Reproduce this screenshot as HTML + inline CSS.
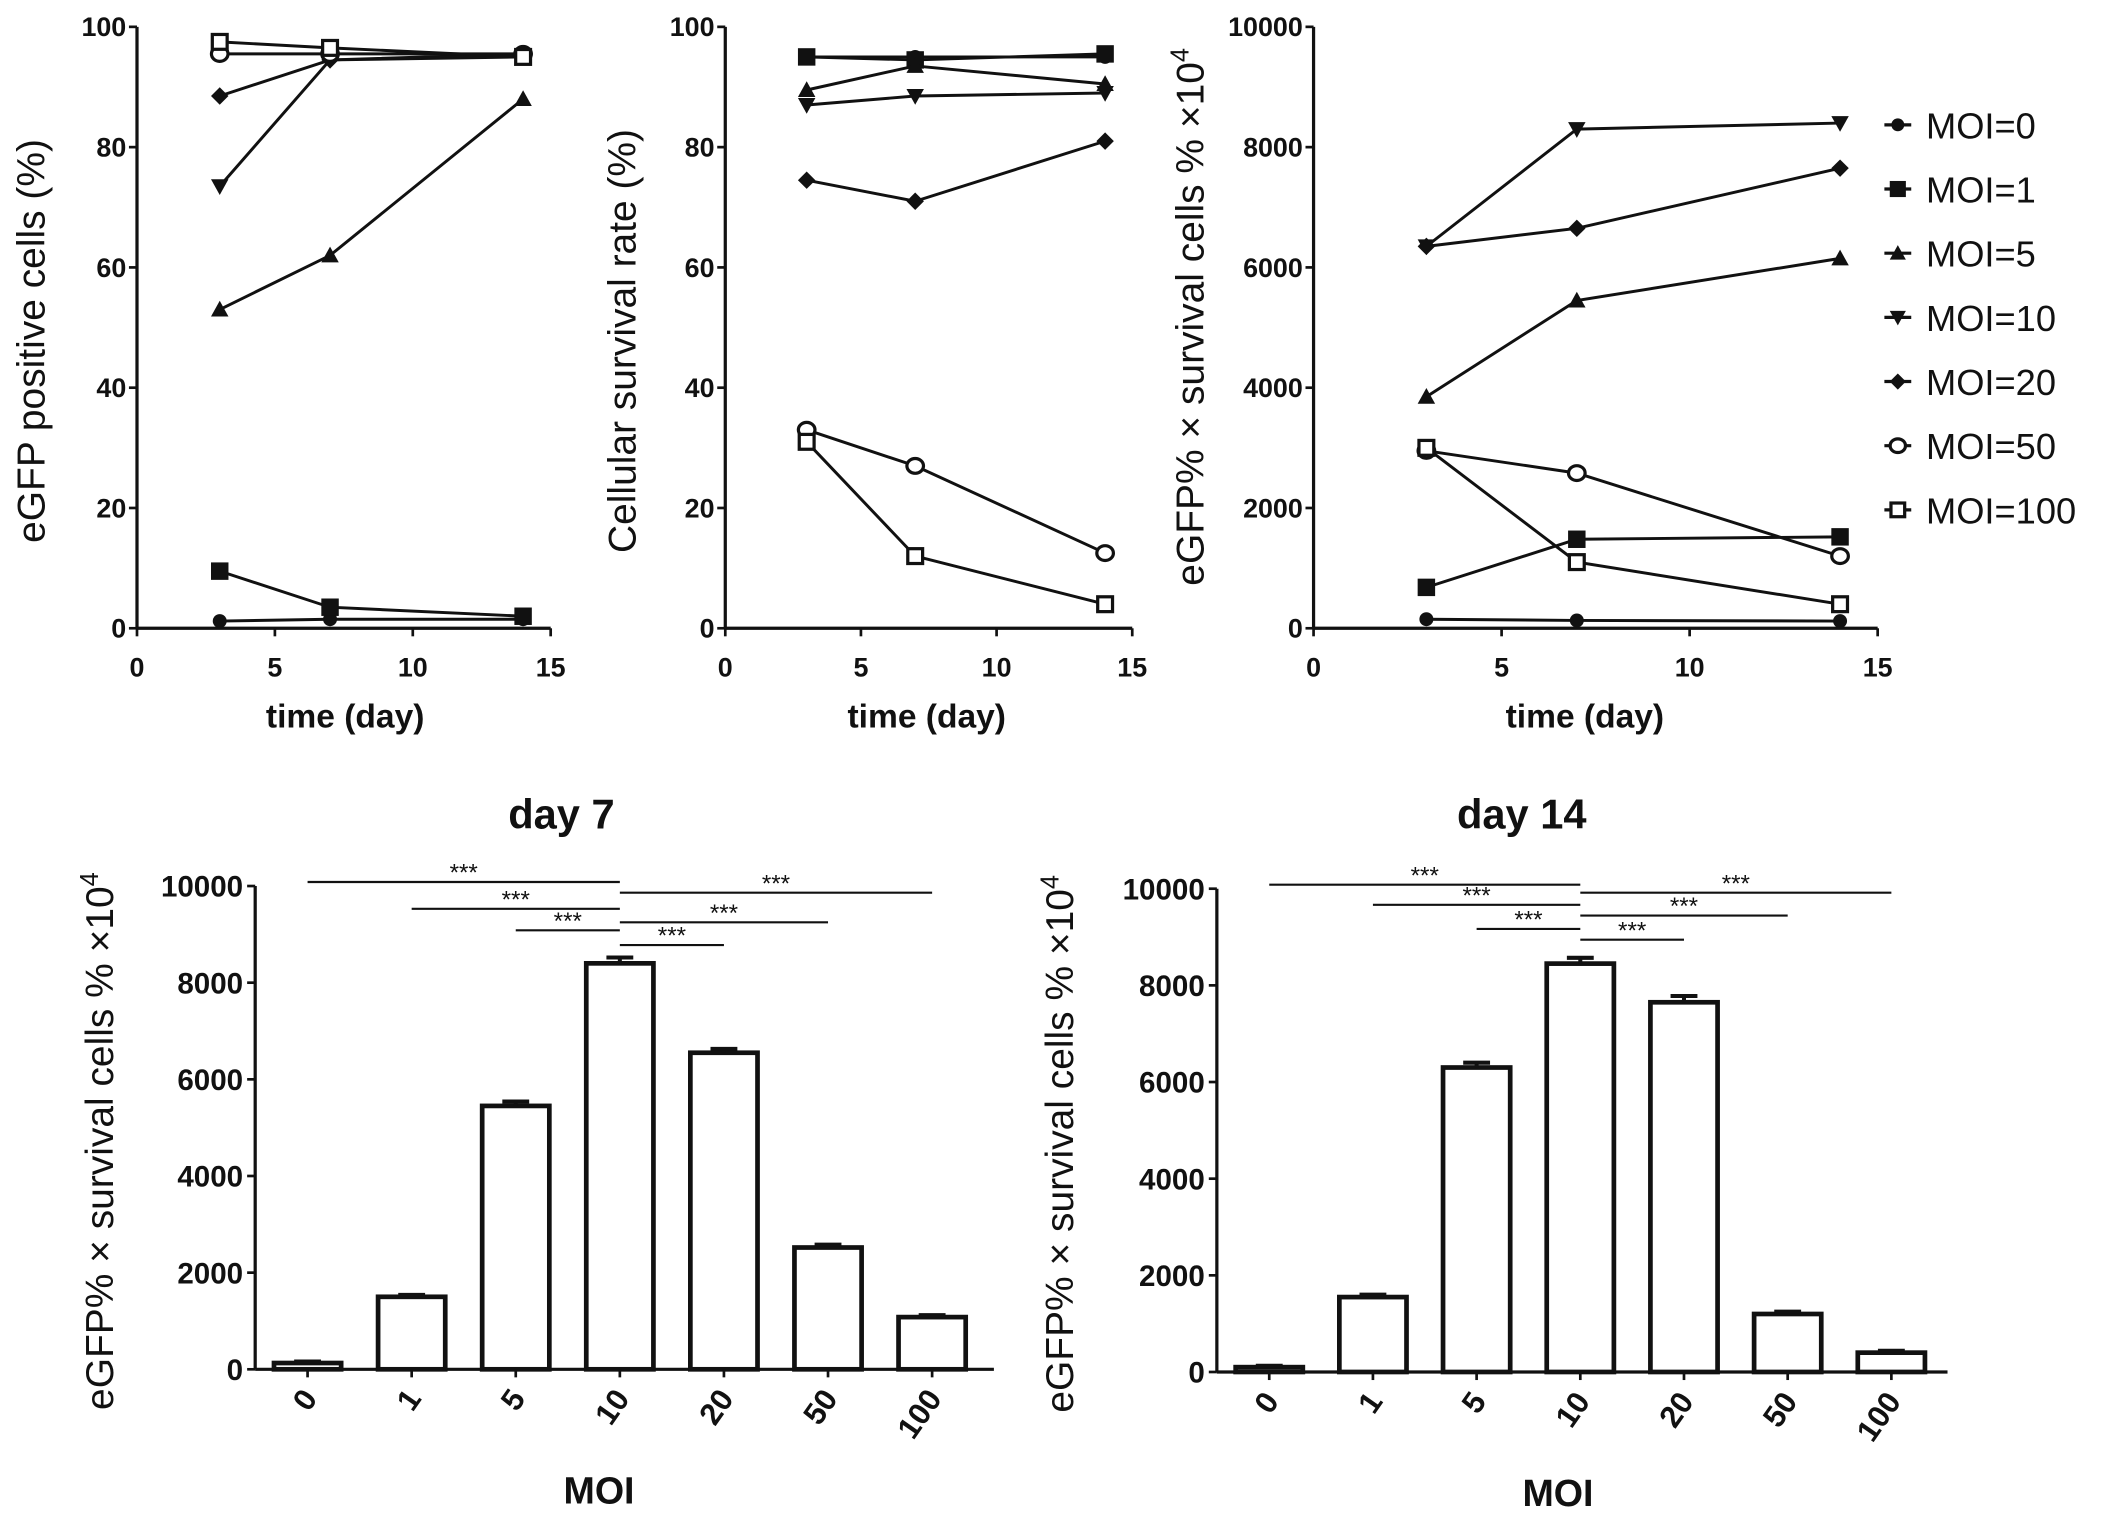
<!DOCTYPE html>
<html><head><meta charset="utf-8">
<style>
html,body{margin:0;padding:0;background:#fff;}
svg{display:block;}
text{font-family:"Liberation Sans",Arial,sans-serif;fill:#111;}
</style></head>
<body>
<svg id="fig" width="2106" height="1521" viewBox="0 0 1568 1133" preserveAspectRatio="none" xmlns="http://www.w3.org/2000/svg"></svg>
<script>
// ---- data ----
const days = [3, 7, 14];
const moiLabels = ["MOI=0","MOI=1","MOI=5","MOI=10","MOI=20","MOI=50","MOI=100"];
const markers = ["circle","square","tri","tridown","diamond","ocircle","osquare"];
const egfp0 = [1.2,1.5,1.5];
const egfp1 = [9.5,3.5,2];
const egfp5 = [53,62,88];
const egfp10 = [73.5,94.5,95];
const egfp20 = [88.5,94.5,95.5];
const egfp50 = [95.5,95.5,95.5];
const egfp100 = [97.5,96.5,95];
const surv0 = [95,95,95];
const surv1 = [95,94.5,95.5];
const surv5 = [89.5,93.5,90.5];
const surv10 = [87,88.5,89];
const surv20 = [74.5,71,81];
const surv50 = [33,27,12.5];
const surv100 = [31,12,4];
const prod0 = [150,130,120];
const prod1 = [680,1480,1520];
const prod5 = [3850,5450,6150];
const prod10 = [6350,8300,8400];
const prod20 = [6350,6650,7650];
const prod50 = [2950,2580,1200];
const prod100 = [3000,1100,400];
const barCats = ["0","1","5","10","20","50","100"];
const day7Vals = [130,1500,5450,8400,6550,2520,1080];
const day7Err = [30,40,90,120,80,60,40];
const day14Vals = [100,1550,6300,8450,7650,1200,400];
const day14Err = [30,50,100,120,130,50,40];
const tickTime = [0,5,10,15];
const tickPct = [0,20,40,60,80,100];
const tickProd = [0,2000,4000,6000,8000,10000];
const tickBar = [0,2000,4000,6000,8000,10000];
const sig7 = [[0,3],[3,6],[1,3],[3,5],[2,3],[3,4]];
const sig14 = [[0,3],[3,6],[1,3],[3,5],[2,3],[3,4]];

const NS="http://www.w3.org/2000/svg";
const svg=document.getElementById('fig');
function el(tag,attrs,parent){const e=document.createElementNS(NS,tag);for(const k in attrs)e.setAttribute(k,attrs[k]);(parent||svg).appendChild(e);return e;}
function txt(s,attrs,parent){const e=el('text',attrs,parent);e.textContent=s;return e;}

function marker(g,type,x,y,s){
  s=s||6.5;
  let m;
  if(type==="circle"){m=el('circle',{cx:x,cy:y,r:s*0.8,fill:'#111'},g);}
  else if(type==="square"){m=el('rect',{x:x-s,y:y-s,width:2*s,height:2*s,fill:'#111'},g);}
  else if(type==="tri"){m=el('polygon',{points:`${x},${y-s} ${x-s},${y+s*0.8} ${x+s},${y+s*0.8}`,fill:'#111'},g);}
  else if(type==="tridown"){m=el('polygon',{points:`${x},${y+s} ${x-s},${y-s*0.8} ${x+s},${y-s*0.8}`,fill:'#111'},g);}
  else if(type==="diamond"){m=el('polygon',{points:`${x},${y-s} ${x+s},${y} ${x},${y+s} ${x-s},${y}`,fill:'#111'},g);}
  else if(type==="ocircle"){m=el('ellipse',{cx:x,cy:y,rx:s*0.95,ry:s*0.85,fill:'#fff',stroke:'#111','stroke-width':2.4},g);}
  else {m=el('rect',{x:x-s*0.85,y:y-s*0.85,width:1.7*s,height:1.7*s,fill:'#fff',stroke:'#111','stroke-width':2.4},g);}
  
  
}

function linePanel(name,x0,x1,y0,y1,yMax,yTicks,series,ylabel,ylabelX,xtitleX){
  const g=el('g',{});
  
  
  const sx=v=>x0+(x1-x0)*v/15, sy=v=>y0-(y0-y1)*v/yMax;
  el('line',{x1:x0,y1:y1,x2:x0,y2:y0,stroke:'#111','stroke-width':2.4},g);
  el('line',{x1:x0,y1:y0,x2:x1,y2:y0,stroke:'#111','stroke-width':2.4},g);
  yTicks.forEach(t=>{el('line',{x1:x0-6,y1:sy(t),x2:x0,y2:sy(t),stroke:'#111','stroke-width':2},g);
    const tl=txt(String(t),{x:x0-8,y:sy(t)+7,'text-anchor':'end','font-size':20,'font-weight':'bold'},g);
    });
  tickTime.forEach(t=>{el('line',{x1:sx(t),y1:y0,x2:sx(t),y2:y0+6,stroke:'#111','stroke-width':2},g);
    const tl=txt(String(t),{x:sx(t),y:y0+36,'text-anchor':'middle','font-size':20,'font-weight':'bold'},g);
    });
  const xt=txt('time (day)',{x:xtitleX,y:y0+74,'text-anchor':'middle','font-size':25,'font-weight':'bold'},g);
  
  if(ylabel){
    const yt=txt(ylabel,{x:0,y:0,'text-anchor':'middle','font-size':29,transform:`translate(${ylabelX},${(y0+y1)/2+10}) rotate(-90)`},g);
    
  }
  series.forEach((vals,i)=>{
    const pts=days.map((d,j)=>sx(d)+','+sy(vals[j])).join(' ');
    const pl=el('polyline',{points:pts,fill:'none',stroke:'#111','stroke-width':2.2},g);
    
    days.forEach((d,j)=>marker(g,markers[i],sx(d),sy(vals[j])));
  });
  return g;
}

linePanel('egfp-positive-chart',102,410,468,20,100,tickPct,[egfp0,egfp1,egfp5,egfp10,egfp20,egfp50,egfp100],'eGFP positive cells (%)',33,257);
linePanel('survival-rate-chart',540,843,468,20,100,tickPct,[surv0,surv1,surv5,surv10,surv20,surv50,surv100],'Cellular survival rate (%)',473,690);
linePanel('product-chart',978,1398,468,20,10000,tickProd,[prod0,prod1,prod5,prod10,prod20,prod50,prod100],'',895,1180);
const yl3=txt('',{x:0,y:0,'text-anchor':'middle','font-size':29,transform:`translate(896,236) rotate(-90)`});
yl3.innerHTML='eGFP% × survival cells % ×10<tspan dy="-11" font-size="19">4</tspan>';


// legend
const lg=el('g',{});


moiLabels.forEach((l,i)=>{
  const y=93+i*47.8;
  const eg=el('g',{},lg);
  
  
  el('line',{x1:1403,y1:y,x2:1423,y2:y,stroke:'#111','stroke-width':2.4},eg);
  marker(eg,markers[i],1413,y,6);
  txt(l,{x:1434,y:y+10,'font-size':27},eg);
});

function barPanel(name,title,titleX,x0,x1,y0,y1,centers0,step,vals,errs,sigs,sigYs,ylabelX,moiX){
  const g=el('g',{});
  
  
  const sy=v=>y0-(y0-y1)*v/10000;
  const cx=i=>centers0+step*i;
  const tt=txt(title,{x:titleX,y:617,'text-anchor':'middle','font-size':31,'font-weight':'bold'},g);
  
  el('line',{x1:x0,y1:y1,x2:x0,y2:y0,stroke:'#111','stroke-width':2.4},g);
  el('line',{x1:x0,y1:y0,x2:x1,y2:y0,stroke:'#111','stroke-width':2.4},g);
  tickBar.forEach(t=>{el('line',{x1:x0-6,y1:sy(t),x2:x0,y2:sy(t),stroke:'#111','stroke-width':2},g);
    const tl=txt(String(t),{x:x0-9,y:sy(t)+8,'text-anchor':'end','font-size':22,'font-weight':'bold'},g);
    });
  vals.forEach((v,i)=>{
    const x=cx(i);
    const b=el('rect',{x:x-25,y:sy(v),width:50,height:y0-sy(v),fill:'#fff',stroke:'#111','stroke-width':3.5},g);
    
    el('line',{x1:x,y1:sy(v),x2:x,y2:sy(v+errs[i]),stroke:'#111','stroke-width':3},g);
    el('line',{x1:x-10,y1:sy(v+errs[i]),x2:x+10,y2:sy(v+errs[i]),stroke:'#111','stroke-width':3},g);
    el('line',{x1:x,y1:y0,x2:x,y2:y0+6,stroke:'#111','stroke-width':2},g);
    const tl=txt(barCats[i],{x:0,y:0,'text-anchor':'end','font-size':23,'font-weight':'bold',transform:`translate(${x+8},${y0+22}) rotate(-55)`},g);
    
  });
  sigs.forEach((p,k)=>{
    const y=sigYs[k];
    const sg=el('g',{},g);
    
    
    el('line',{x1:cx(p[0]),y1:y,x2:cx(p[1]),y2:y,stroke:'#111','stroke-width':1.6},sg);
    txt('***',{x:(cx(p[0])+cx(p[1]))/2,y:y-1,'text-anchor':'middle','font-size':18,fill:'#444'},sg);
  });
  const xt=txt('MOI',{x:moiX,y:y0+100,'text-anchor':'middle','font-size':28,'font-weight':'bold'},g);
  
  const yt=txt('',{x:0,y:0,'text-anchor':'middle','font-size':29,transform:`translate(${ylabelX},${(y0+y1)/2+10}) rotate(-90)`},g);
  yt.innerHTML='eGFP% × survival cells % ×10<tspan dy="-11" font-size="19">4</tspan>';
  
}
barPanel('day7-bar-chart','day 7',418,190,740,1020,660,229,77.5,day7Vals,day7Err,sig7,[657,665,677,687,693,704],84,446);
barPanel('day14-bar-chart','day 14',1133,906,1450,1022,662,945,77.2,day14Vals,day14Err,sig14,[659,665,674,682,692,700],799,1160);
</script>
</body></html>
